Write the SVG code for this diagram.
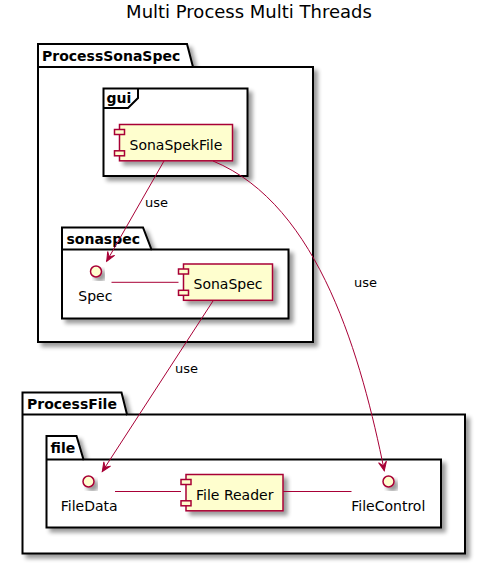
<svg xmlns="http://www.w3.org/2000/svg" width="498" height="578" viewBox="0 0 498 578">
<style>
text{font-family:"DejaVu Sans","Liberation Sans",sans-serif;fill:#000}
.title{font-size:18px}
.pkg{fill:#FFFFFF;stroke:#000000;stroke-width:2}
.pkgl{font-size:14px;font-weight:bold}
.comp{fill:#FEFECE;stroke:#A80036;stroke-width:1.5}
.lbl{font-size:14px}
.use{font-size:13px}
.conn{fill:none;stroke:#A80036;stroke-width:1}
</style>
<defs>
<filter id="sh" x="-20%" y="-20%" width="150%" height="150%">
<feGaussianBlur in="SourceAlpha" stdDeviation="2" result="b"/>
<feOffset in="b" dx="4" dy="4" result="o"/>
<feComponentTransfer in="o" result="s"><feFuncA type="linear" slope="0.4"/></feComponentTransfer>
<feMerge><feMergeNode in="s"/><feMergeNode in="SourceGraphic"/></feMerge>
</filter>
<marker id="arr" markerUnits="userSpaceOnUse" markerWidth="12" markerHeight="10" viewBox="-10 -5 12 10" refX="0" refY="0" orient="auto" overflow="visible">
<path d="M0,0 L-9,-4 L-5,0 L-9,4 Z" fill="#A80036" stroke="#A80036" stroke-width="1"/>
</marker>
</defs>
<rect width="498" height="578" fill="#FFFFFF"/>
<text class="title" x="249" y="18" text-anchor="middle">Multi Process Multi Threads</text>

<g id="ProcessSonaSpec">
<path class="pkg" filter="url(#sh)" d="M38,44 L187,44 L193,67 L313,67 L313,342 L38,342 Z"/>
<line x1="38" y1="67" x2="193" y2="67" stroke="#000" stroke-width="2"/>
<text class="pkgl" x="42" y="61">ProcessSonaSpec</text>
</g>

<g id="gui">
<rect class="pkg" filter="url(#sh)" x="103.5" y="88.5" width="144" height="87.5"/>
<path d="M103.5,108 L128,108 L138,98 L138,88.5" fill="none" stroke="#000" stroke-width="2"/>
<text class="pkgl" x="106.5" y="103">gui</text>
</g>

<g id="SonaSpekFile">
<rect class="comp" filter="url(#sh)" x="119.5" y="124.5" width="113" height="36.3"/>
<rect class="comp" x="114.5" y="129.5" width="10" height="5"/>
<rect class="comp" x="114.5" y="150.8" width="10" height="5"/>
<text class="lbl" x="129.5" y="149.5">SonaSpekFile</text>
</g>

<g id="sonaspec">
<path class="pkg" filter="url(#sh)" d="M62,227.5 L143,227.5 L151.5,249.5 L288.5,249.5 L288.5,318.5 L62,318.5 Z"/>
<line x1="62" y1="249.5" x2="151.5" y2="249.5" stroke="#000" stroke-width="2"/>
<text class="pkgl" x="66.5" y="243.5">sonaspec</text>
</g>

<g id="Spec">
<circle class="comp" filter="url(#sh)" cx="96" cy="271.5" r="5.5"/>
<text class="lbl" x="95.3" y="300.5" text-anchor="middle">Spec</text>
</g>

<g id="SonaSpec">
<rect class="comp" filter="url(#sh)" x="183.5" y="264" width="89" height="36.3"/>
<rect class="comp" x="178.5" y="269" width="10" height="5"/>
<rect class="comp" x="178.5" y="290.3" width="10" height="5"/>
<text class="lbl" x="193.5" y="289">SonaSpec</text>
</g>

<g id="ProcessFile">
<path class="pkg" filter="url(#sh)" d="M22.5,392.5 L121.5,392.5 L127,414.5 L465,414.5 L465,553.5 L22.5,553.5 Z"/>
<line x1="22.5" y1="414.5" x2="127" y2="414.5" stroke="#000" stroke-width="2"/>
<text class="pkgl" x="27" y="408.5">ProcessFile</text>
</g>

<g id="file">
<path class="pkg" filter="url(#sh)" d="M46.5,436 L76.5,436 L83.5,459.5 L441,459.5 L441,527.5 L46.5,527.5 Z"/>
<line x1="46.5" y1="459.5" x2="83.5" y2="459.5" stroke="#000" stroke-width="2"/>
<text class="pkgl" x="50.5" y="452.5">file</text>
</g>

<g id="FileData">
<circle class="comp" filter="url(#sh)" cx="88.5" cy="481.5" r="5.5"/>
<text class="lbl" x="89.2" y="510.7" text-anchor="middle">FileData</text>
</g>

<g id="FileReader">
<rect class="comp" filter="url(#sh)" x="186" y="474.5" width="97" height="36.3"/>
<rect class="comp" x="181" y="479.5" width="10" height="5"/>
<rect class="comp" x="181" y="500.8" width="10" height="5"/>
<text class="lbl" x="196" y="500">File Reader</text>
</g>

<g id="FileControl">
<circle class="comp" filter="url(#sh)" cx="388.5" cy="481.5" r="5.5"/>
<text class="lbl" x="388.3" y="510.7" text-anchor="middle">FileControl</text>
</g>

<g id="connectors">
<path class="conn" d="M164,161 L106.7,261.3" marker-end="url(#arr)"/>
<text class="use" x="145" y="206.5">use</text>
<path class="conn" d="M213,161 C320,205 362,361 384.3,470.7" marker-end="url(#arr)"/>
<text class="use" x="354" y="287">use</text>
<path class="conn" d="M213.3,300.5 L102.3,471.5" marker-end="url(#arr)"/>
<text class="use" x="175" y="373.3">use</text>
<path class="conn" d="M111.5,282.3 L178.5,282.3"/>
<path class="conn" d="M115,491.5 L181,491.5"/>
<path class="conn" d="M283,491.5 L351.5,491.5"/>
</g>
</svg>
